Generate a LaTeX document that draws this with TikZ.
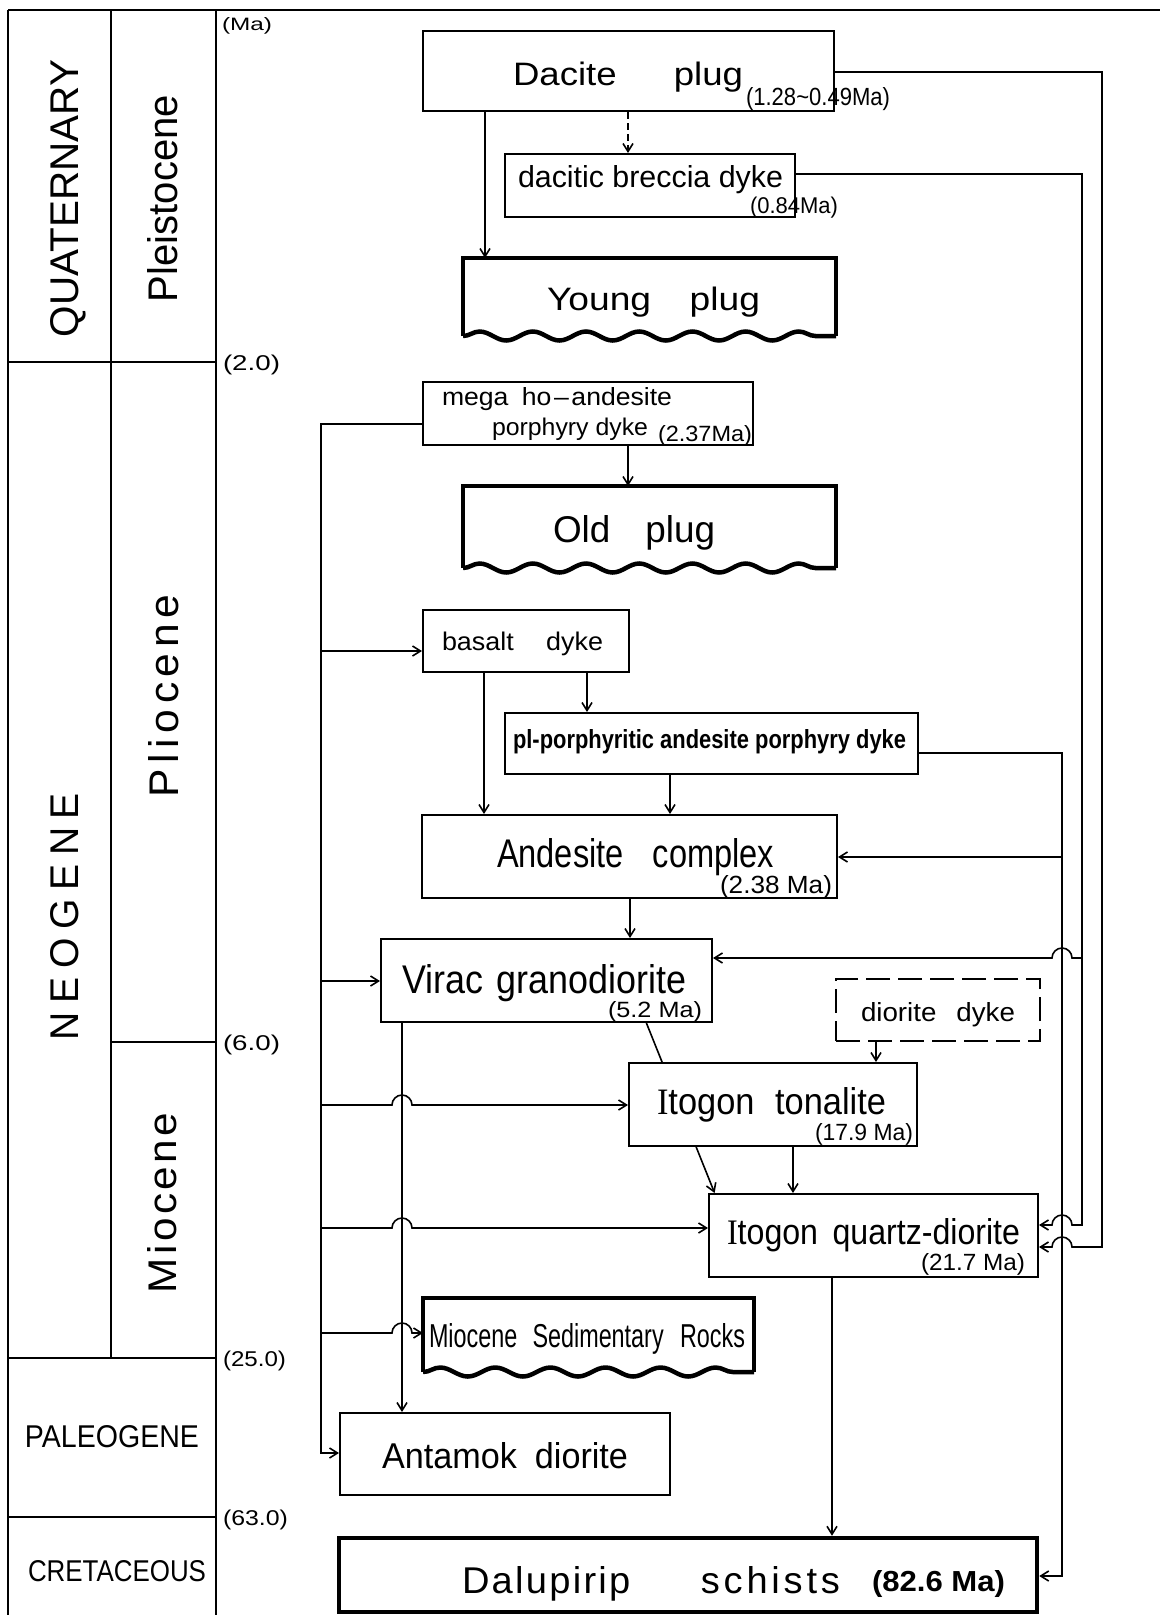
\documentclass[tikz,border=0pt]{standalone}
\usepackage{fontspec}
\setmainfont{Liberation Sans}
\newfontfamily\serifI{Liberation Serif}
\usepackage{graphicx}
\usetikzlibrary{arrows.meta,decorations.pathmorphing,calc,fit}
\pgfdeclarelayer{bg}
\pgfsetlayers{bg,main}
\newcommand\fitt[3]{\resizebox{#1pt}{#2pt}{#3}}
\newcommand\lsp[2]{\def\lskern{#1}\lspA#2\relax\relax}
\def\lspA#1#2{#1\ifx\relax#2\else\kern\lskern\relax\expandafter\lspA\expandafter#2\fi}
\tikzset{
  bx/.style={draw, line width=2pt, fill=white, inner sep=0pt},
  wv/.style={inner sep=0pt, outer sep=0pt},
  thk/.style={line width=4.5pt, line join=miter},
  conn/.style={line width=1.6pt},
  arr/.style={conn, -{Straight Barb[length=8pt,width=10pt]}},
  tx/.style={inner sep=0pt, outer sep=0pt, anchor=base west},
  rtx/.style={tx, rotate=90},
  tbl/.style={line width=2pt},
  wave/.style={thk, decorate, decoration={snake, segment length=#1, amplitude=4.5pt}},
}
\begin{document}
\begin{tikzpicture}[x=1pt,y=-1pt]
\path[use as bounding box] (0,0) rectangle (1160,1615);
\begin{pgfonlayer}{bg}\fill[white] (0,0) rectangle (1160,1615);\end{pgfonlayer}

% ---------- time table ----------
\draw[tbl] (8,10) -- (1160,10);
\draw[tbl] (8,10) -- (8,1615);
\draw[tbl] (111,10) -- (111,1358);
\draw[tbl] (216,10) -- (216,1615);
\draw[tbl] (8,362) -- (216,362);
\draw[tbl] (111,1042) -- (216,1042);
\draw[tbl] (8,1358) -- (216,1358);
\draw[tbl] (8,1517) -- (216,1517);

\node[rtx] (lQuat) at (78,337) {\fitt{277}{28}{QUATERNARY}};
\node[rtx] (lPleist) at (177,302) {\fitt{207}{30}{Pleistocene}};
\node[rtx] (lNeo) at (78,1040) {\fitt{247}{28}{\lsp{0.22em}{NEOGENE}}};
\node[rtx] (lPlio) at (178,797) {\fitt{202}{30}{\lsp{0.13em}{Pliocene}}};
\node[rtx] (lMio) at (176,1293) {\fitt{180}{29}{\lsp{0.08em}{Miocene}}};
\node[tx] (lPaleo) at (25,1447) {\fitt{174}{22}{PALEOGENE}};
\node[tx] (lCret) at (28,1581) {\fitt{178}{21}{CRETACEOUS}};
\node[tx] (aMa) at (222,30) {\fitt{50}{13}{(Ma)}};
\node[tx] (a2) at (223,370.5) {\fitt{57}{15.5}{(2.0)}};
\node[tx] (a6) at (223,1050) {\fitt{57}{15.5}{(6.0)}};
\node[tx] (a25) at (223,1366) {\fitt{63}{15.5}{(25.0)}};
\node[tx] (a63) at (223,1525) {\fitt{65}{15.5}{(63.0)}};

% ---------- boxes ----------
\node[bx, fit={(423,31) (834,111)}] (dacite) {};
\node[bx, fit={(505,154) (795,217)}] (breccia) {};
\node[wv, fit={(463,258) (836,336)}] (young) {};
\node[bx, fit={(423,382) (753,445)}] (mega) {};
\node[wv, fit={(463,486) (836,568)}] (old) {};
\node[bx, fit={(423,610) (629,672)}] (basalt) {};
\node[bx, fit={(505,713) (918,774)}] (pl) {};
\node[bx, fit={(422,815) (837,898)}] (andesite) {};
\node[bx, fit={(381,939) (712,1022)}] (virac) {};
\node[bx, dash pattern=on 24pt off 8pt, fit={(836,979) (1040,1041)}] (dioritedyke) {};
\node[bx, fit={(629,1063) (917,1146)}] (tonalite) {};
\node[bx, fit={(709,1194) (1038,1277)}] (qd) {};
\node[wv, fit={(423,1298) (754,1372)}] (sed) {};
\node[bx, fit={(340,1413) (670,1495)}] (antamok) {};
\node[bx, line width=4.5pt, fit={(339,1538) (1037,1612)}] (dalupirip) {};

\draw[thk] (young.south west) -- (young.north west) -- (young.north east) -- (young.south east);
\draw[wave=53.2pt] (young.south west) -- (young.south east);
\draw[thk] (old.south west) -- (old.north west) -- (old.north east) -- (old.south east);
\draw[wave=53.2pt] (old.south west) -- (old.south east);
\draw[thk] (sed.south west) -- (sed.north west) -- (sed.north east) -- (sed.south east);
\draw[wave=55.1pt] (sed.south west) -- (sed.south east);

% ---------- texts ----------
\node[tx] (tDacite) at (513,85) {\fitt{230}{23.5}{Dacite\hspace{1.56em}plug}};
\node[tx] (tDaciteAge) at (746,105) {\fitt{144}{18}{(1.28\textasciitilde0.49Ma)}};
\node[tx] (tBreccia) at (518,187) {\fitt{265}{22}{dacitic breccia dyke}};
\node[tx] (tBrecciaAge) at (750,213) {\fitt{88}{16.5}{(0.84Ma)}};
\node[tx] (tYoung) at (547,310) {\fitt{213}{23.5}{Young\hspace{1.04em}plug}};
\node[tx] (tMega1) at (442,405) {\fitt{230}{18}{mega\hspace{0.5em}ho\hspace{0.1em}--\hspace{0.1em}andesite}};
\node[tx] (tMega2) at (492,435) {\fitt{156}{17.5}{porphyry dyke}};
\node[tx] (tMegaAge) at (658,441) {\fitt{94}{16}{(2.37Ma)}};
\node[tx] (tOld) at (553,542) {\fitt{162}{27}{Old\hspace{0.95em}plug}};
\node[tx] (tBasalt) at (442,650) {\fitt{161}{18.5}{basalt\hspace{1.2em}dyke}};
\node[tx] (tPl) at (513,748) {\fitt{393}{19}{\bfseries pl-porphyritic andesite porphyry dyke}};
\node[tx] (tAndesite) at (497,867) {\fitt{277}{29}{Andesite\hspace{0.89em}complex}};
\node[tx] (tAndesiteAge) at (720,893) {\fitt{112}{18}{(2.38 Ma)}};
\node[tx] (tVirac) at (402,993) {\fitt{284}{29}{Virac\hspace{0.37em}granodiorite}};
\node[tx] (tViracAge) at (608,1017) {\fitt{94}{16}{(5.2 Ma)}};
\node[tx] (tDiorite) at (861,1021) {\fitt{154}{19}{diorite\hspace{0.72em}dyke}};
\node[tx] (tTonalite) at (657,1114) {\fitt{229}{27}{{\serifI I}togon\hspace{0.6em}tonalite}};
\node[tx] (tTonaliteAge) at (815,1140) {\fitt{98}{17}{(17.9 Ma)}};
\node[tx] (tQd) at (727,1244) {\fitt{293}{26}{{\serifI I}togon\hspace{0.45em}quartz-diorite}};
\node[tx] (tQdAge) at (921,1270) {\fitt{104}{17}{(21.7 Ma)}};
\node[tx] (tSed) at (429,1347) {\fitt{316}{24}{Miocene\hspace{0.65em}Sedimentary\hspace{0.7em}Rocks}};
\node[tx] (tAntamok) at (382,1468) {\fitt{246}{26}{Antamok\hspace{0.53em}diorite}};
\node[tx] (tDalupirip) at (462,1593) {\fitt{378}{27}{\lsp{0.06em}{Dalupirip}\hspace{1.85em}\lsp{0.1em}{schists}}};
\node[tx] (tDalupiripAge) at (872,1591) {\fitt{133}{21}{\bfseries (82.6 Ma)}};

% ---------- connectors ----------
\coordinate (xYoung) at (485,0);
\coordinate (xBrec) at (628,0);
\coordinate (xOld) at (628,0);
\coordinate (xBA) at (484,0);
\coordinate (xBP) at (587,0);
\coordinate (xPA) at (670,0);
\coordinate (xAV) at (630,0);
\coordinate (xVA) at (402,0);
\coordinate (xDT) at (876,0);
\coordinate (xTQ) at (793,0);
\coordinate (xQD) at (832,0);
\coordinate (xR) at (1062,0);

\draw[arr] (xYoung |- dacite.south) -- (xYoung |- young.north);
\draw[arr, dash pattern=on 7pt off 4pt] (xBrec |- dacite.south) -- (xBrec |- breccia.north);
\draw[arr] (xOld |- mega.south) -- (xOld |- old.north);
\draw[arr] (xBA |- basalt.south) -- (xBA |- andesite.north);
\draw[arr] (xBP |- basalt.south) -- (xBP |- pl.north);
\draw[arr] (xPA |- pl.south) -- (xPA |- andesite.north);
\draw[arr] (xAV |- andesite.south) -- (xAV |- virac.north);
\draw[arr] (xVA |- virac.south) -- (xVA |- antamok.north);
\draw[arr] (xDT |- dioritedyke.south) -- (xDT |- tonalite.north);
\draw[arr] (xTQ |- tonalite.south) -- (xTQ |- qd.north);
\draw[arr] (xQD |- qd.south) -- (xQD |- dalupirip.north);

\begin{pgfonlayer}{bg}
\draw[arr] ($(virac.south west)!0.8!(virac.south east)$) -- ($(qd.north west)!0.02!(qd.north east)$);
\end{pgfonlayer}

% left trunk
\coordinate (tTop) at (321,424);
\coordinate (tBot) at (321,1453);
\draw[arr] (tTop -| mega.west) -- (tTop) -- (tBot) -- (tBot -| antamok.west);
\coordinate (bBas) at (321,651);
\draw[arr] (bBas) -- (bBas -| basalt.west);
\coordinate (bVir) at (321,981);
\draw[arr] (bVir) -- (bVir -| virac.west);
\coordinate (bTon) at (321,1105);
\draw[arr] (bTon) -- ($(bTon -| xVA)+(-10,0)$) arc[start angle=180,end angle=360,radius=10] -- (bTon -| tonalite.west);
\coordinate (bQd) at (321,1228);
\draw[arr] (bQd) -- ($(bQd -| xVA)+(-10,0)$) arc[start angle=180,end angle=360,radius=10] -- (bQd -| qd.west);
\coordinate (bSed) at (321,1333);
\draw[arr] (bSed) -- ($(bSed -| xVA)+(-10,0)$) arc[start angle=180,end angle=360,radius=10] -- (bSed -| sed.west);

% right side
\coordinate (rA) at (1102,72);
\coordinate (rA2) at (1102,1247);
\draw[arr] (rA -| dacite.east) -- (rA) -- (rA2) -- ($(rA2 -| xR)+(10,0)$) arc[start angle=0,end angle=-180,radius=10] -- (rA2 -| qd.east);
\coordinate (rB) at (1082,174);
\coordinate (rB2) at (1082,1225);
\draw[arr] (rB -| breccia.east) -- (rB) -- (rB2) -- ($(rB2 -| xR)+(10,0)$) arc[start angle=0,end angle=-180,radius=10] -- (rB2 -| qd.east);
\coordinate (rBv) at (1082,958);
\draw[arr] (rBv) -- ($(rBv -| xR)+(10,0)$) arc[start angle=0,end angle=-180,radius=10] -- (rBv -| virac.east);
\coordinate (rC) at (1062,753);
\coordinate (rC2) at (1062,1576);
\draw[arr] (rC -| pl.east) -- (rC) -- (rC2) -- (rC2 -| dalupirip.east);
\coordinate (rCa) at (1062,857);
\draw[arr] (rCa) -- (rCa -| andesite.east);
\end{tikzpicture}
\end{document}
